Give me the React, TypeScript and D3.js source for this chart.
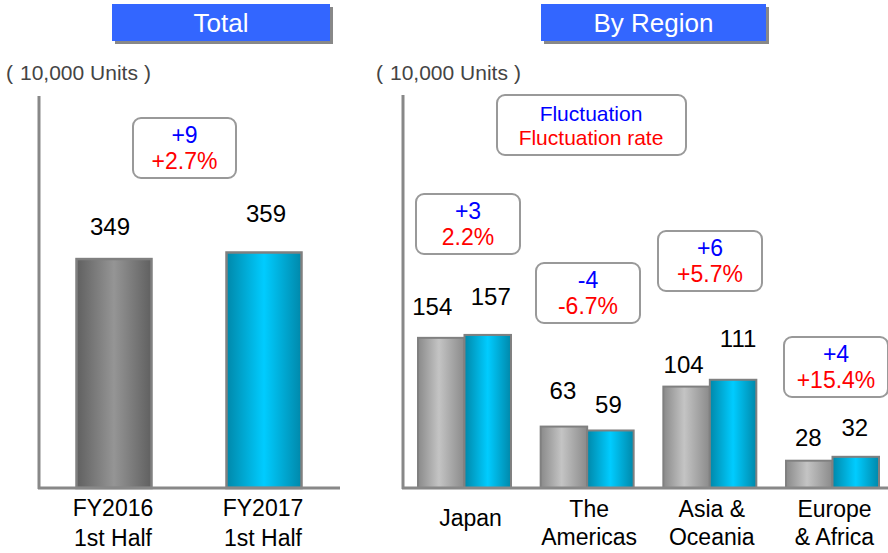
import React from "react";
import * as d3 from "d3";

const totalCategories = [["FY2016", "1st Half"], ["FY2017", "1st Half"]];
const totalValues = [349, 359];
const totalFluct = "+9";
const totalRate = "+2.7%";

const regionCategories = [["Japan"], ["The", "Americas"], ["Asia &", "Oceania"], ["Europe", "& Africa"]];
const regionPrev = [154, 63, 104, 28];
const regionCurr = [157, 59, 111, 32];
const regionFluct = ["+3", "-4", "+6", "+4"];
const regionRate = ["2.2%", "-6.7%", "+5.7%", "+15.4%"];

// layout (label placement relative to bar top / centre)
const totalLabelDx = [-4, 2];
const totalLabelGap = [24, 30];
const prevLabelDx = [-9, -1, -3, -1];
const prevLabelGap = [23, 28, 14, 15];
const currLabelDx = [3, -2, 5, -1];
const currLabelGap = [30, 17, 33, 21];

const FONT = "'Liberation Sans', Arial, sans-serif";
const BASE = 488;

function AnnBox({ x, y, w, h, top, bottom }: any) {
  return (
    <g>
      <rect x={x} y={y} width={w} height={h} rx={8} fill="#fff" stroke="#999" strokeWidth={2} />
      <text x={x + w / 2} y={y + 25} textAnchor="middle" fontSize={23} fill="#0000FF">{top}</text>
      <text x={x + w / 2} y={y + 51} textAnchor="middle" fontSize={23} fill="#FF0000">{bottom}</text>
    </g>
  );
}

function Title({ x, w, label }: any) {
  return (
    <g>
      <rect x={x + 3} y={7} width={w} height={37} fill="#888" />
      <rect x={x} y={4} width={w} height={37} fill="#3366FF" />
      <text x={x + w / 2} y={32} textAnchor="middle" fontSize={26} fill="#fff">{label}</text>
    </g>
  );
}

function Units({ x }: any) {
  return (
    <text x={x} y={80} fontSize={21} fill="#444">
      <tspan fontWeight={300}>(</tspan>
      <tspan dx={7}>10,000 Units</tspan>
      <tspan dx={6}>)</tspan>
    </text>
  );
}

export default function App() {
  // Total panel
  const yTotal = d3.scaleLinear().domain([0, 600]).range([BASE, BASE - 600 * 0.656]);
  const xTotal = d3.scaleBand().domain(["0", "1"]).range([39, 339]).paddingInner(0.5).paddingOuter(0.25);
  // Region panel
  const yReg = d3.scaleLinear().domain([0, 400]).range([BASE, BASE - 400 * 0.975]);
  const xReg = d3.scaleBand().domain(["0", "1", "2", "3"]).range([418, 879]).paddingInner(0.242).paddingOuter(0);
  const bw = xReg.bandwidth() / 2;

  const regionBoxes = [
    { x: 416, y: 194 },
    { x: 536, y: 263 },
    { x: 658, y: 231 },
    { x: 784, y: 337 },
  ];

  return (
    <svg width={888} height={553} style={{ position: "absolute", left: 0, top: 0 }} fontFamily={FONT}>
      <defs>
        <linearGradient id="darkGray" x1="0" x2="1" y1="0" y2="0">
          <stop offset="0" stopColor="#606060" />
          <stop offset="0.5" stopColor="#959595" />
          <stop offset="1" stopColor="#606060" />
        </linearGradient>
        <linearGradient id="lightGray" x1="0" x2="1" y1="0" y2="0">
          <stop offset="0" stopColor="#8a8a8a" />
          <stop offset="0.45" stopColor="#c4c4c4" />
          <stop offset="1" stopColor="#8a8a8a" />
        </linearGradient>
        <linearGradient id="cyan" x1="0" x2="1" y1="0" y2="0">
          <stop offset="0" stopColor="#0088aa" />
          <stop offset="0.5" stopColor="#00ccff" />
          <stop offset="1" stopColor="#0088aa" />
        </linearGradient>
      </defs>

      <Title x={112} w={218} label="Total" />
      <Title x={541} w={225} label="By Region" />

      <Units x={6} />
      <Units x={376} />

      {/* Total panel */}
      {totalValues.map((v, i) => {
        const x = xTotal(String(i))!;
        const w = xTotal.bandwidth();
        return (
          <g key={i}>
            <rect x={x} y={yTotal(v)} width={w} height={BASE - yTotal(v)} fill={i === 0 ? "url(#darkGray)" : "url(#cyan)"} stroke="#808080" strokeWidth={2.5} />
            <text x={x + w / 2 + totalLabelDx[i]} y={yTotal(v) - totalLabelGap[i]} textAnchor="middle" fontSize={24} fill="#000">{v}</text>
            {totalCategories[i].map((t, j) => (
              <text key={j} x={x + w / 2 - 1} y={516 + j * 30} textAnchor="middle" fontSize={23} fill="#000">{t}</text>
            ))}
          </g>
        );
      })}
      <line x1={39} x2={39} y1={96} y2={BASE + 1} stroke="#888" strokeWidth={3} />
      <line x1={38} x2={340} y1={BASE} y2={BASE} stroke="#888" strokeWidth={3} />
      <AnnBox x={133} y={118} w={103} h={60} top={totalFluct} bottom={totalRate} />

      {/* Region panel */}
      {regionPrev.map((v, i) => {
        const x0 = xReg(String(i))!;
        const c = regionCurr[i];
        return (
          <g key={i}>
            <rect x={x0} y={yReg(v)} width={bw} height={BASE - yReg(v)} fill="url(#lightGray)" stroke="#808080" strokeWidth={2} />
            <rect x={x0 + bw} y={yReg(c)} width={bw} height={BASE - yReg(c)} fill="url(#cyan)" stroke="#808080" strokeWidth={2} />
            <text x={x0 + bw / 2 + prevLabelDx[i]} y={yReg(v) - prevLabelGap[i]} textAnchor="middle" fontSize={24} fill="#000">{v}</text>
            <text x={x0 + bw * 1.5 + currLabelDx[i]} y={yReg(c) - currLabelGap[i]} textAnchor="middle" fontSize={24} fill="#000">{c}</text>
            {regionCategories[i].length === 1 ? (
              <text x={x0 + bw + 6} y={526} textAnchor="middle" fontSize={23} fill="#000">{regionCategories[i][0]}</text>
            ) : (
              regionCategories[i].map((t, j) => (
                <text key={j} x={x0 + bw + 2} y={517 + j * 28} textAnchor="middle" fontSize={23} fill="#000">{t}</text>
              ))
            )}
          </g>
        );
      })}
      <line x1={403} x2={403} y1={95} y2={BASE + 1} stroke="#888" strokeWidth={3} />
      <line x1={402} x2={888} y1={BASE} y2={BASE} stroke="#888" strokeWidth={3} />

      <g>
        <rect x={497} y={95} width={189} height={60} rx={8} fill="#fff" stroke="#999" strokeWidth={2} />
        <text x={591} y={121} textAnchor="middle" fontSize={21} fill="#0000FF">Fluctuation</text>
        <text x={591} y={145} textAnchor="middle" fontSize={21} fill="#FF0000">Fluctuation rate</text>
      </g>
      {regionBoxes.map((b, i) => (
        <AnnBox key={i} x={b.x} y={b.y} w={104} h={60} top={regionFluct[i]} bottom={regionRate[i]} />
      ))}
    </svg>
  );
}
